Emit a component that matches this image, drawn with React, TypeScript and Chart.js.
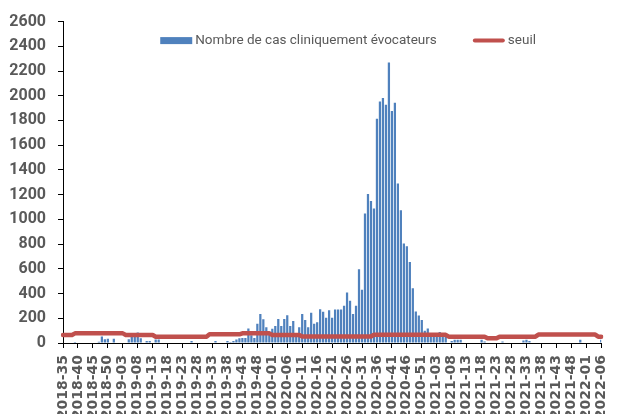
import React, { useEffect, useRef } from 'react';
import { Chart, registerables } from 'chart.js';

Chart.register(...registerables);

const weeks2018 = ["2018-35","2018-36","2018-37","2018-38","2018-39","2018-40","2018-41","2018-42","2018-43","2018-44","2018-45","2018-46","2018-47","2018-48","2018-49","2018-50","2018-51","2018-52"];
const weeks2019 = ["2019-01","2019-02","2019-03","2019-04","2019-05","2019-06","2019-07","2019-08","2019-09","2019-10","2019-11","2019-12","2019-13","2019-14","2019-15","2019-16","2019-17","2019-18","2019-19","2019-20","2019-21","2019-22","2019-23","2019-24","2019-25","2019-26","2019-27","2019-28","2019-29","2019-30","2019-31","2019-32","2019-33","2019-34","2019-35","2019-36","2019-37","2019-38","2019-39","2019-40","2019-41","2019-42","2019-43","2019-44","2019-45","2019-46","2019-47","2019-48","2019-49","2019-50","2019-51","2019-52"];
const weeks2020 = ["2020-01","2020-02","2020-03","2020-04","2020-05","2020-06","2020-07","2020-08","2020-09","2020-10","2020-11","2020-12","2020-13","2020-14","2020-15","2020-16","2020-17","2020-18","2020-19","2020-20","2020-21","2020-22","2020-23","2020-24","2020-25","2020-26","2020-27","2020-28","2020-29","2020-30","2020-31","2020-32","2020-33","2020-34","2020-35","2020-36","2020-37","2020-38","2020-39","2020-40","2020-41","2020-42","2020-43","2020-44","2020-45","2020-46","2020-47","2020-48","2020-49","2020-50","2020-51","2020-52","2020-53"];
const weeks2021 = ["2021-01","2021-02","2021-03","2021-04","2021-05","2021-06","2021-07","2021-08","2021-09","2021-10","2021-11","2021-12","2021-13","2021-14","2021-15","2021-16","2021-17","2021-18","2021-19","2021-20","2021-21","2021-22","2021-23","2021-24","2021-25","2021-26","2021-27","2021-28","2021-29","2021-30","2021-31","2021-32","2021-33","2021-34","2021-35","2021-36","2021-37","2021-38","2021-39","2021-40","2021-41","2021-42","2021-43","2021-44","2021-45","2021-46","2021-47","2021-48","2021-49","2021-50","2021-51","2021-52"];
const weeks2022 = ["2022-01","2022-02","2022-03","2022-04","2022-05","2022-06"];
const categories = [...weeks2018, ...weeks2019, ...weeks2020, ...weeks2021, ...weeks2022];

const casValues = [
  0, 0, 0, 0, 8, 0, 0, 0, 0, 0,
  0, 0, 10, 52, 30, 35, 0, 35, 0, 0,
  0, 0, 30, 48, 48, 85, 38, 0, 16, 16,
  0, 28, 28, 0, 0, 0, 0, 0, 0, 0,
  0, 0, 0, 16, 0, 0, 0, 0, 0, 0,
  0, 16, 0, 0, 0, 16, 8, 16, 28, 38,
  40, 40, 118, 62, 40, 155, 234, 192, 127, 94,
  115, 137, 195, 137, 194, 225, 137, 178, 80, 128,
  234, 186, 128, 245, 155, 168, 273, 253, 204, 265,
  204, 272, 272, 272, 301, 409, 342, 234, 301, 596,
  430, 1047, 1206, 1149, 1088, 1814, 1954, 1981, 1927, 2269,
  1876, 1944, 1290, 1074, 805, 783, 656, 442, 255, 222,
  186, 100, 117, 78, 78, 78, 88, 70, 70, 0,
  16, 27, 27, 27, 0, 0, 0, 0, 0, 0,
  27, 13, 0, 0, 0, 0, 0, 13, 0, 0,
  0, 0, 0, 0, 21, 27, 16, 0, 0, 0,
  0, 0, 0, 0, 0, 0, 0, 0, 0, 0,
  0, 0, 0, 27, 0, 0, 0, 0, 0, 0,
  27
];

const seuilValues = [
  65, 65, 65, 65, 78, 78, 78, 78, 78, 78,
  78, 78, 78, 78, 78, 78, 78, 78, 78, 78,
  78, 65, 65, 65, 65, 65, 65, 65, 65, 65,
  65, 51, 51, 51, 51, 51, 51, 51, 51, 51,
  51, 51, 51, 51, 51, 51, 51, 51, 51, 70,
  70, 70, 70, 70, 70, 70, 70, 70, 70, 70,
  78, 78, 78, 78, 78, 78, 78, 78, 78, 78,
  65, 65, 65, 65, 65, 65, 65, 65, 65, 65,
  53, 53, 53, 53, 53, 53, 53, 53, 53, 53,
  53, 53, 53, 53, 53, 53, 53, 53, 53, 53,
  53, 53, 53, 53, 66, 66, 66, 66, 66, 66,
  66, 66, 66, 66, 66, 66, 66, 66, 66, 66,
  66, 66, 66, 66, 66, 66, 66, 66, 66, 51,
  51, 51, 51, 51, 51, 51, 51, 51, 51, 51,
  51, 51, 38, 38, 38, 38, 51, 51, 51, 51,
  51, 51, 51, 51, 51, 51, 51, 51, 51, 68,
  68, 68, 68, 68, 68, 68, 68, 68, 68, 68,
  68, 68, 68, 68, 68, 68, 68, 68, 68, 51,
  51
];

const seriesNames = ['Nombre de cas cliniquement évocateurs', 'seuil'];
const yMin = 0;
const yMax = 2600;
const yStep = 200;
const labelEvery = 5;

const BLUE = '#4F81BD';
const RED = '#C0504D';
const GREY = '#595959';

const insideLegend = {
  id: 'insideLegend',
  afterDraw(chart: any) {
    const { ctx, chartArea } = chart;
    const items = chart.data.datasets.map((ds: any) => ({
      text: ds.label,
      color: ds.type === 'line' ? ds.borderColor : ds.backgroundColor,
      isLine: ds.type === 'line',
    }));
    ctx.save();
    ctx.font = '13.5px Roboto';
    const boxW = 32;
    const gapText = 3;
    const gapItem = 36;
    const widths = items.map((it: any) => boxW + gapText + ctx.measureText(it.text).width);
    const total = widths.reduce((a: number, b: number) => a + b, 0) + gapItem * (items.length - 1);
    let x = (chartArea.left + chartArea.right) / 2 + 16 - total / 2;
    const y = chartArea.top + 19;
    items.forEach((it: any, k: number) => {
      if (it.isLine) {
        ctx.strokeStyle = it.color;
        ctx.lineWidth = 4;
        ctx.lineCap = 'round';
        ctx.beginPath();
        ctx.moveTo(x + 2, y);
        ctx.lineTo(x + boxW - 2, y);
        ctx.stroke();
      } else {
        ctx.fillStyle = it.color;
        ctx.fillRect(x, y - 3.5, boxW, 7);
      }
      ctx.fillStyle = GREY;
      ctx.textBaseline = 'middle';
      ctx.textAlign = 'left';
      ctx.fillText(it.text, x + boxW + gapText, y);
      x += widths[k] + gapItem;
    });
    ctx.restore();
  },
};

export default function App() {
  const canvasRef = useRef<HTMLCanvasElement | null>(null);

  useEffect(() => {
    if (!canvasRef.current) return;
    const chart = new Chart(canvasRef.current, {
      type: 'bar',
      data: {
        labels: categories,
        datasets: [
          {
            type: 'bar',
            label: seriesNames[0],
            data: casValues,
            backgroundColor: BLUE,
            borderWidth: 0,
            barPercentage: 0.75,
            categoryPercentage: 1,
            order: 2,
          } as any,
          {
            type: 'line',
            label: seriesNames[1],
            data: seuilValues,
            borderColor: RED,
            backgroundColor: RED,
            borderWidth: 4.5,
            pointRadius: 0,
            tension: 0,
            borderJoinStyle: 'round',
            borderCapStyle: 'round',
            order: 1,
          } as any,
        ],
      },
      options: {
        animation: false,
        responsive: true,
        maintainAspectRatio: false,
        layout: { padding: { top: 21, right: 10, left: 0, bottom: 0 } },
        plugins: {
          legend: { display: false },
          tooltip: { enabled: false },
        },
        scales: {
          x: {
            type: 'category',
            offset: false,
            grid: {
              display: true,
              drawOnChartArea: false,
              drawTicks: true,
              tickLength: 5,
              color: '#000',
              offset: false,
            },
            border: { display: true, color: '#000', width: 1 },
            ticks: {
              autoSkip: false,
              maxRotation: 90,
              minRotation: 90,
              padding: 7,
              color: GREY,
              font: { family: 'DejaVu Sans', weight: 'bold', size: 14 },
              callback: (value: any) => categories[value as number],
            },
            afterBuildTicks: (scale: any) => {
              scale.ticks = scale.ticks.filter((t: any) => t.value % labelEvery === 0);
            },
            afterFit: (scale: any) => {
              scale.height = 97;
            },
          } as any,
          y: {
            min: yMin,
            max: yMax,
            grid: {
              display: true,
              drawOnChartArea: false,
              drawTicks: true,
              tickLength: 5,
              color: '#000',
            },
            border: { display: true, color: '#000', width: 1 },
            ticks: {
              stepSize: yStep,
              padding: 12,
              color: GREY,
              font: { family: 'Roboto', weight: 'bold', size: 16 },
              callback: (value: any) => String(value),
            },
            afterFit: (scale: any) => {
              scale.width = 63;
            },
          } as any,
        },
      },
      plugins: [insideLegend],
    });
    return () => chart.destroy();
  }, []);

  return (
    <div style={{ position: 'absolute', left: 0, top: 0, width: 625, height: 414, overflow: 'hidden', background: '#fff' }}>
      <div style={{ position: 'relative', width: 625, height: 440 }}>
        <canvas ref={canvasRef} />
      </div>
    </div>
  );
}
